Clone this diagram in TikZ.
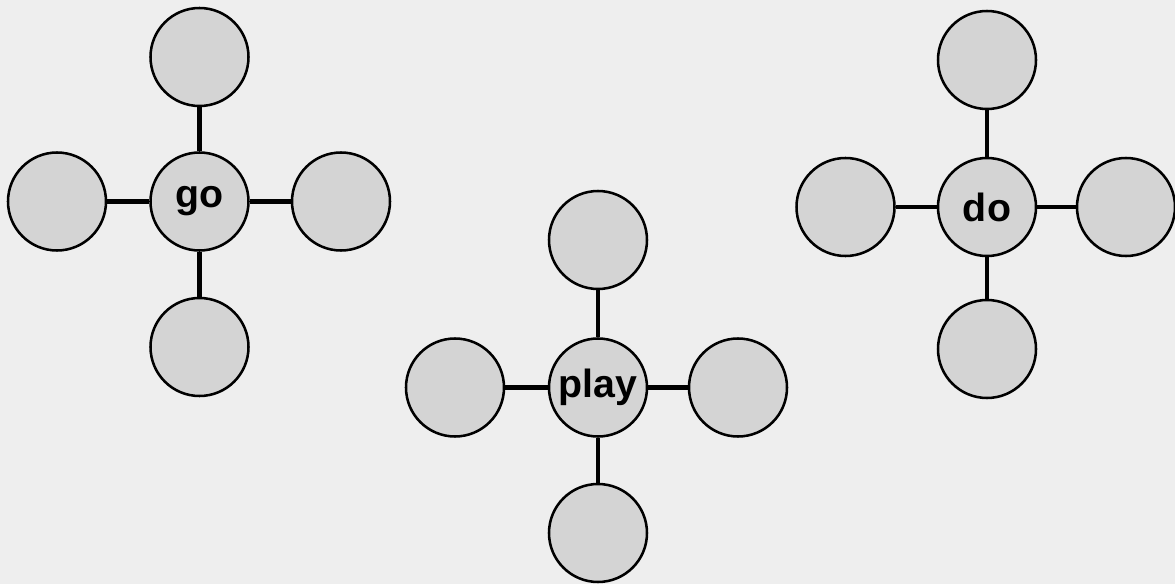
\documentclass[tikz,border=0pt]{standalone}
\usepackage{fontspec}
\setmainfont{Liberation Sans}
\definecolor{bggray}{HTML}{EEEEEE}
\definecolor{bubblegray}{HTML}{D4D4D4}
\begin{document}
\begin{tikzpicture}[x=0.75pt,y=-0.75pt,
  bubble/.style={circle, draw=black, line width=1.9pt, fill=bubblegray,
    minimum size=73.5pt, inner sep=0pt,
    font=\bfseries\fontsize{29.5}{29.5}\selectfont},
  link/.style={draw=black, line width=3.3pt}]
\fill[bggray] (0,0) rectangle (1175,584);
\useasboundingbox (0,0) rectangle (1175,584);
% go
\node[bubble] (go)  at (199.5,201.5) {go};
\node[bubble] (goT) at (199.5,57) {};
\node[bubble] (goL) at (57,201.5) {};
\node[bubble] (goR) at (341,201.5) {};
\node[bubble] (goB) at (199.5,347) {};
\draw[link] (go) -- (goT);
\draw[link] (go) -- (goL);
\draw[link] (go) -- (goR);
\draw[link] (go) -- (goB);
% do
\node[bubble] (do)  at (987,207) {do};
\node[bubble] (doT) at (987,60) {};
\node[bubble] (doL) at (845.5,207) {};
\node[bubble] (doR) at (1126,207) {};
\node[bubble] (doB) at (987,349) {};
\draw[link] (do) -- (doT);
\draw[link] (do) -- (doL);
\draw[link] (do) -- (doR);
\draw[link] (do) -- (doB);
% play
\node[bubble] (play)  at (598,387.5) {play};
\node[bubble] (playT) at (598,240) {};
\node[bubble] (playL) at (455,387.5) {};
\node[bubble] (playR) at (738,387.5) {};
\node[bubble] (playB) at (598,533) {};
\draw[link] (play) -- (playT);
\draw[link] (play) -- (playL);
\draw[link] (play) -- (playR);
\draw[link] (play) -- (playB);
\end{tikzpicture}
\end{document}
